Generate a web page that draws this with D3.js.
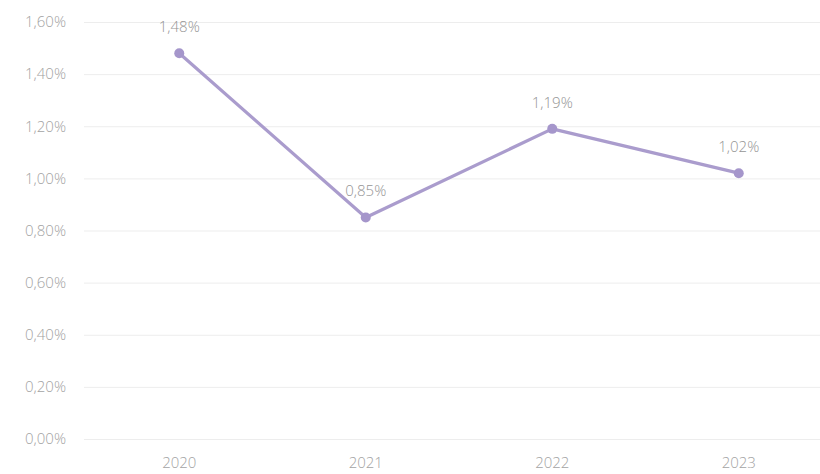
<!DOCTYPE html>
<html>
<head>
<meta charset="utf-8">
<script src="https://cdn.jsdelivr.net/npm/d3@7"></script>
<style>
  html, body { margin: 0; padding: 0; background: #ffffff; }
  svg { display: block; }
  text { font-family: "Open Sans", "Noto Sans", sans-serif; font-weight: 300; }
</style>
</head>
<body>
<div id="chart"></div>
<script>
// Annual rate, 2020–2023
const years = ["2020", "2021", "2022", "2023"];
const rates = [1.48, 0.85, 1.19, 1.02];
const yTicks = [0, 0.2, 0.4, 0.6, 0.8, 1.0, 1.2, 1.4, 1.6];

const width = 820, height = 474;
const svg = d3.select("#chart").append("svg")
  .attr("width", width).attr("height", height);

const x = d3.scaleBand().domain(years).range([86, 832]).padding(0);
const y = d3.scaleLinear().domain([0, 1.6]).range([439, 22]);

const fmt = v => d3.format(".2f")(v).replace(".", ",") + "%";
const textColor = "#a3a3a3";
const fontSize = "15px";

// Horizontal gridlines with value labels
const yAxis = d3.axisLeft(y).tickValues(yTicks).tickSize(-(width - 84)).tickFormat(fmt).tickPadding(18);
const gy = svg.append("g").attr("transform", "translate(84,0)").call(yAxis);
gy.select(".domain").remove();
gy.selectAll(".tick line").attr("stroke", "#ededed").attr("stroke-width", 1);
gy.selectAll(".tick text")
  .attr("fill", textColor)
  .style("font-size", fontSize);

// Category axis (labels only)
const xAxis = d3.axisBottom(x).tickSize(0).tickPadding(18);
const gx = svg.append("g").attr("transform", "translate(0,439)").call(xAxis);
gx.select(".domain").remove();
gx.selectAll(".tick text")
  .attr("fill", textColor)
  .style("font-size", fontSize);

const cx = d => x(d) + x.bandwidth() / 2;
const pts = years.map((yr, i) => ({ yr, v: rates[i] }));

// Series line
svg.append("path")
  .datum(pts)
  .attr("fill", "none")
  .attr("stroke", "#aa9ccd")
  .attr("stroke-width", 3.2)
  .attr("stroke-linejoin", "round")
  .attr("d", d3.line().x(d => cx(d.yr)).y(d => y(d.v)));

// Markers
svg.selectAll("circle.pt")
  .data(pts).enter().append("circle")
  .attr("class", "pt")
  .attr("cx", d => cx(d.yr))
  .attr("cy", d => y(d.v))
  .attr("r", 5)
  .attr("fill", "#a596cb");

// Value labels
svg.selectAll("text.lbl")
  .data(pts).enter().append("text")
  .attr("class", "lbl")
  .attr("x", d => cx(d.yr))
  .attr("y", d => y(d.v) - 21)
  .attr("text-anchor", "middle")
  .attr("fill", "#959595")
  .style("font-size", fontSize)
  .text(d => fmt(d.v));
</script>
</body>
</html>
